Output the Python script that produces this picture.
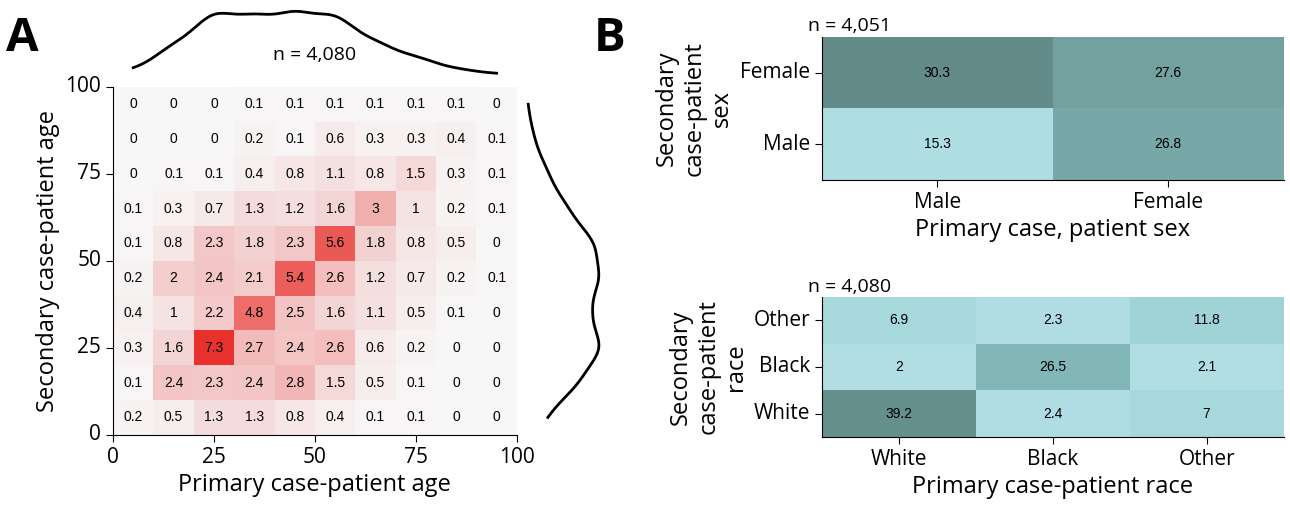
import numpy as np, pandas as pd, seaborn as sns
import matplotlib
matplotlib.use("Agg")
import matplotlib.pyplot as plt
from matplotlib.colors import LinearSegmentedColormap

age_bins = [5, 15, 25, 35, 45, 55, 65, 75, 85, 95]
# rows from top (90-100) to bottom (0-10)
age_matrix = [
    [0, 0, 0, 0.1, 0.1, 0.1, 0.1, 0.1, 0.1, 0],
    [0, 0, 0, 0.2, 0.1, 0.6, 0.3, 0.3, 0.4, 0.1],
    [0, 0.1, 0.1, 0.4, 0.8, 1.1, 0.8, 1.5, 0.3, 0.1],
    [0.1, 0.3, 0.7, 1.3, 1.2, 1.6, 3, 1, 0.2, 0.1],
    [0.1, 0.8, 2.3, 1.8, 2.3, 5.6, 1.8, 0.8, 0.5, 0],
    [0.2, 2, 2.4, 2.1, 5.4, 2.6, 1.2, 0.7, 0.2, 0.1],
    [0.4, 1, 2.2, 4.8, 2.5, 1.6, 1.1, 0.5, 0.1, 0],
    [0.3, 1.6, 7.3, 2.7, 2.4, 2.6, 0.6, 0.2, 0, 0],
    [0.1, 2.4, 2.3, 2.4, 2.8, 1.5, 0.5, 0.1, 0, 0],
    [0.2, 0.5, 1.3, 1.3, 0.8, 0.4, 0.1, 0.1, 0, 0],
]
sex_labels = ["Male", "Female"]
sex_rows = ["Female", "Male"]
sex_matrix = [[30.3, 27.6], [15.3, 26.8]]
race_labels = ["White", "Black", "Other"]
race_rows = ["Other", "Black", "White"]
race_matrix = [[6.9, 2.3, 11.8], [2, 26.5, 2.1], [39.2, 2.4, 7]]

plt.rcParams['font.family'] = ['Open Sans', 'DejaVu Sans']
fig = plt.figure(figsize=(12.9, 5.14), dpi=100)
annot_kw = dict(fontsize=10, family='Liberation Sans', color='black')

# left heatmap
ax = fig.add_axes([0.0876, 0.154, 0.313, 0.677])
M = np.array(age_matrix)
red = LinearSegmentedColormap.from_list('r', ['#f7f7f7', '#f3c4c4', '#ec6b67', '#e8312c'])
sns.heatmap(M, ax=ax, cmap=red, vmin=0, vmax=7.3, annot=True, fmt='g',
            cbar=False, annot_kws=annot_kw)
ax.set_xticks([0, 2.5, 5, 7.5, 10]); ax.set_xticklabels(['0', '25', '50', '75', '100'], rotation=0)
ax.set_yticks([10, 7.5, 5, 2.5, 0]); ax.set_yticklabels(['0', '25', '50', '75', '100'], rotation=0)
for s in ['left', 'bottom']:
    ax.spines[s].set_visible(True); ax.spines[s].set_color('black')
ax.tick_params(labelsize=15, length=5)
ax.set_xlabel('Primary case-patient age', fontsize=17)
ax.set_ylabel('Secondary case-patient age', fontsize=17)

centers = np.array(age_bins, dtype=float)
colsum = M.sum(axis=0)
rowsum = M[::-1].sum(axis=1)

axt = fig.add_axes([0.0876, 0.854, 0.313, 0.13])
sns.kdeplot(x=centers, weights=colsum, bw_adjust=0.38, cut=0, ax=axt, color='black', lw=2)
axt.set_xlim(0, 100); axt.set_ylim(0, None); axt.axis('off')
axt.text(50, axt.get_ylim()[1] * 0.22, 'n = 4,080', ha='center', fontsize=14)

axr = fig.add_axes([0.407, 0.154, 0.06, 0.677])
sns.kdeplot(y=centers, weights=rowsum, bw_adjust=0.38, cut=0, ax=axr, color='black', lw=2)
axr.set_ylim(0, 100); axr.set_xlim(0, None); axr.axis('off')

teal = LinearSegmentedColormap.from_list('t', ['#b3e0e6', '#8fc9c9', '#5f8684'])

ax1 = fig.add_axes([0.637, 0.65, 0.358, 0.278])
sns.heatmap(pd.DataFrame(sex_matrix, index=sex_rows, columns=sex_labels), ax=ax1, cmap=teal,
            vmin=14, vmax=31, annot=True, fmt='g', cbar=False, annot_kws=annot_kw)
ax1.set_xlabel('Primary case, patient sex', fontsize=17)
ax1.set_ylabel('Secondary\ncase-patient\nsex', fontsize=17)
ax1.set_title('n = 4,051', loc='left', fontsize=14, pad=4, x=-0.03)

ax2 = fig.add_axes([0.637, 0.15, 0.358, 0.272])
sns.heatmap(pd.DataFrame(race_matrix, index=race_rows, columns=race_labels), ax=ax2, cmap=teal,
            vmin=0, vmax=42, annot=True, fmt='g', cbar=False, annot_kws=annot_kw)
ax2.set_xlabel('Primary case-patient race', fontsize=17)
ax2.set_ylabel('Secondary\ncase-patient\nrace', fontsize=17)
ax2.set_title('n = 4,080', loc='left', fontsize=14, pad=4, x=-0.03)

for a in (ax1, ax2):
    for s in ['left', 'bottom']:
        a.spines[s].set_visible(True); a.spines[s].set_color('black')
    a.tick_params(labelsize=15, length=5)
    a.set_yticklabels(a.get_yticklabels(), rotation=0)
    a.set_xticklabels(a.get_xticklabels(), rotation=0)

fig.text(0.005, 0.9, 'A', fontsize=34, fontweight='bold')
fig.text(0.46, 0.9, 'B', fontsize=34, fontweight='bold')
fig.savefig('out.png', dpi=100)
